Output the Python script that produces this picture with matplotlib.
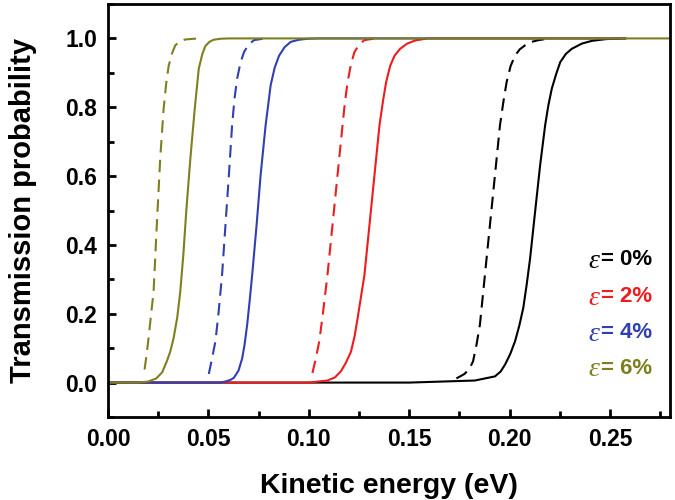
import numpy as np
import matplotlib.pyplot as plt
from matplotlib.ticker import MultipleLocator

plt.rcParams['font.family'] = ['Liberation Sans', 'DejaVu Sans']

# strain labels and colours
labels = ['0%', '2%', '4%', '6%']
colors = ['#000000', '#ee1c1c', '#3040b0', '#7f7f1f']

# solid curves
e0_x = [0.0, 0.15, 0.1827, 0.1927, 0.1955, 0.1977, 0.2003, 0.2027, 0.2048, 0.2068, 0.2085, 0.2102, 0.2127,
        0.2152, 0.2177, 0.2193, 0.221, 0.2232, 0.2252, 0.228, 0.231, 0.236, 0.241, 0.248, 0.2575]
e0_y = [0.0, 0.0, 0.006, 0.018, 0.032, 0.052, 0.083, 0.12, 0.165, 0.217, 0.285, 0.361, 0.497,
        0.632, 0.748, 0.806, 0.854, 0.897, 0.931, 0.955, 0.97, 0.985, 0.993, 0.998, 1.0]
e2_x = [0.0, 0.1, 0.1093, 0.113, 0.116, 0.1185, 0.121, 0.1228, 0.1243, 0.126, 0.1277, 0.1302, 0.1327,
        0.1352, 0.137, 0.1385, 0.1405, 0.1427, 0.1455, 0.149, 0.153, 0.159, 0.2575]
e2_y = [0.0, 0.0, 0.006, 0.015, 0.033, 0.058, 0.09, 0.135, 0.187, 0.25, 0.313, 0.458, 0.603,
        0.748, 0.82, 0.873, 0.92, 0.95, 0.97, 0.985, 0.994, 1.0, 1.0]
e4_x = [0.0, 0.056, 0.059, 0.061, 0.0627, 0.065, 0.0668, 0.068, 0.0693, 0.0705, 0.0718, 0.074, 0.076,
        0.0785, 0.081, 0.083, 0.0852, 0.088, 0.091, 0.095, 0.0993, 0.105, 0.2575]
e4_y = [0.0, 0.0, 0.004, 0.008, 0.014, 0.035, 0.07, 0.11, 0.168, 0.235, 0.313, 0.458, 0.603,
        0.748, 0.864, 0.915, 0.95, 0.975, 0.99, 0.996, 0.999, 1.0, 1.0]
e6_x = [0.0, 0.015, 0.02, 0.024, 0.027, 0.0293, 0.031, 0.0327, 0.0345, 0.036, 0.0375, 0.039, 0.041,
        0.0432, 0.0452, 0.047, 0.0485, 0.0505, 0.0525, 0.056, 0.06, 0.28]
e6_y = [0.0, 0.0, 0.003, 0.012, 0.03, 0.062, 0.09, 0.13, 0.19, 0.265, 0.37, 0.5, 0.65,
        0.796, 0.912, 0.955, 0.978, 0.99, 0.996, 0.999, 1.0, 1.0]

# dashed curves (start at a threshold energy)
d0_x = [0.1735, 0.1775, 0.18, 0.1818, 0.1835, 0.1852, 0.1877, 0.1902, 0.1927, 0.1952, 0.197, 0.1985,
        0.2005, 0.2027, 0.205, 0.2077, 0.211, 0.2143, 0.22]
d0_y = [0.012, 0.025, 0.04, 0.062, 0.11, 0.168, 0.313, 0.458, 0.603, 0.748, 0.82, 0.873,
        0.92, 0.95, 0.968, 0.98, 0.99, 0.995, 1.0]
d2_x = [0.1018, 0.1035, 0.1052, 0.107, 0.1093, 0.1118, 0.1143, 0.1168, 0.118, 0.1193, 0.121, 0.1227,
        0.125, 0.1277, 0.133]
d2_y = [0.028, 0.07, 0.12, 0.2, 0.313, 0.458, 0.603, 0.748, 0.815, 0.873, 0.925, 0.96,
        0.982, 0.995, 1.0]
d4_x = [0.0502, 0.0518, 0.0535, 0.055, 0.0568, 0.0585, 0.0602, 0.0618, 0.063, 0.0643, 0.066, 0.0677,
        0.07, 0.0727, 0.078]
d4_y = [0.025, 0.07, 0.12, 0.2, 0.313, 0.458, 0.603, 0.748, 0.825, 0.883, 0.93, 0.96,
        0.982, 0.995, 1.0]
d6_x = [0.0182, 0.0192, 0.0202, 0.0215, 0.0227, 0.0243, 0.026, 0.0277, 0.029, 0.0302, 0.0318, 0.0335,
        0.036, 0.0385, 0.045]
d6_y = [0.038, 0.08, 0.13, 0.2, 0.265, 0.458, 0.651, 0.796, 0.87, 0.92, 0.955, 0.98,
        0.992, 0.997, 1.0]

solid = [(e0_x, e0_y), (e2_x, e2_y), (e4_x, e4_y), (e6_x, e6_y)]
dashed = [(d0_x, d0_y), (d2_x, d2_y), (d4_x, d4_y), (d6_x, d6_y)]

fig = plt.figure(figsize=(6.75, 5), dpi=100)
ax = fig.add_axes([0.16, 0.166, 0.833, 0.826])

for (sx, sy), (dx, dy), c in zip(solid, dashed, colors):
    ax.plot(dx, dy, color=c, lw=1.5, dashes=(6, 3.5))
    ax.plot(sx, sy, color=c, lw=1.5)

ax.set_xlim(0, 0.28)
ax.set_ylim(-0.1, 1.1)
ax.xaxis.set_major_locator(MultipleLocator(0.05))
ax.xaxis.set_minor_locator(MultipleLocator(0.025))
ax.yaxis.set_minor_locator(MultipleLocator(0.1))
ax.set_yticks([0.0, 0.2, 0.4, 0.6, 0.8, 1.0])
ax.xaxis.set_major_formatter(plt.FormatStrFormatter('%.2f'))
ax.yaxis.set_major_formatter(plt.FormatStrFormatter('%.1f'))
ax.tick_params(which='both', direction='in', width=2, top=False, right=False)
ax.tick_params(which='major', length=6, labelsize=16.5, pad=8)
ax.tick_params(which='minor', length=4)
for lab in ax.get_xticklabels() + ax.get_yticklabels():
    lab.set_fontweight('bold')
for sp in ax.spines.values():
    sp.set_linewidth(2)

ax.set_xlabel('Kinetic energy (eV)', fontsize=20.5, fontweight='bold', labelpad=16)
ax.set_ylabel('Transmission probability', fontsize=21, fontweight='bold', labelpad=20)

leg_y = [0.357, 0.249, 0.145, 0.041]
for lab, c, yy in zip(labels, colors, leg_y):
    ax.text(0.2455, yy, '= ' + lab, color=c, fontsize=16, fontweight='bold',
            ha='left', va='center')
    ax.text(0.2448, yy - 0.004, '\u03b5', color=c, fontsize=20, style='italic',
            family=['Liberation Serif', 'DejaVu Serif'], ha='right', va='center')

fig.savefig('out.png', dpi=100)
